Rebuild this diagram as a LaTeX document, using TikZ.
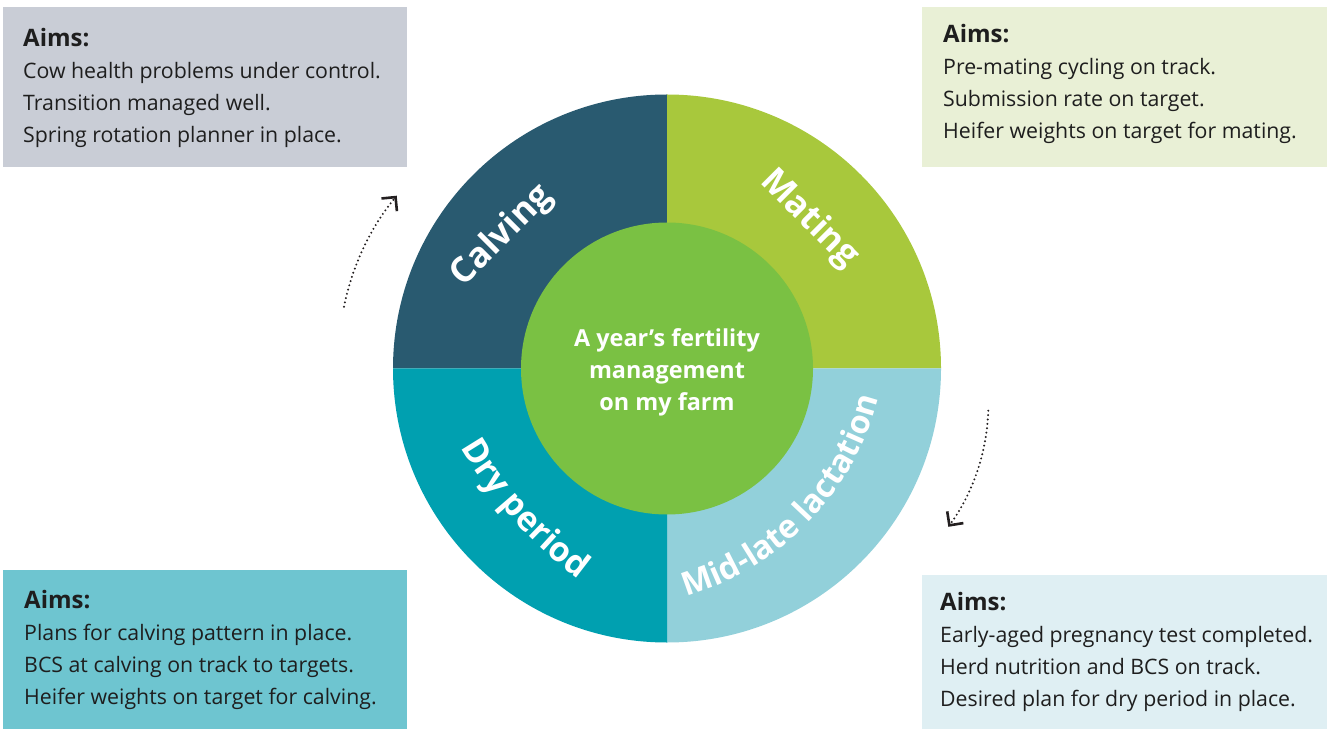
\documentclass[tikz,border=0pt]{standalone}
\usepackage{fontspec}
\setmainfont{Open Sans}
\usetikzlibrary{arrows.meta, positioning, decorations.text}
\definecolor{calvingblue}{HTML}{295A70}
\definecolor{matinggreen}{HTML}{A8C83C}
\definecolor{dryteal}{HTML}{00A0B0}
\definecolor{midlateblue}{HTML}{92D0DA}
\definecolor{hubgreen}{HTML}{7AC143}
\definecolor{calvingbox}{HTML}{C9CDD6}
\definecolor{matingbox}{HTML}{E9F0D6}
\definecolor{drybox}{HTML}{6EC5D0}
\definecolor{midlatebox}{HTML}{DFEFF3}
\definecolor{aimsink}{HTML}{1E1E1E}
\definecolor{turnink}{HTML}{231F20}
\newcommand{\aimshead}{{\bfseries\fontsize{24}{32}\selectfont Aims:}}
\tikzstyle{aimsbox} = [rectangle, anchor=north west, minimum width=404pt, inner sep=0pt]
\tikzstyle{aimstext} = [align=left, text=aimsink, font=\fontsize{21.3}{32}\selectfont, inner sep=0pt]
\tikzstyle{phaselabel} = [text=white, font=\bfseries\fontsize{35}{40}\selectfont, inner sep=0pt]
\tikzstyle{phasearc} = [decorate, decoration={text along path, text align=center, text color=white}]
\tikzstyle{hub} = [circle, fill=hubgreen, minimum size=292pt]
\tikzstyle{hubtext} = [align=center, text=white, inner sep=0pt, font=\bfseries\fontsize{23.4}{32}\selectfont]
\tikzstyle{turn} = [turnink, line width=2.2pt, line cap=round, dash pattern=on 0pt off 4.4pt, -{Straight Barb[length=10pt,width=20pt,line width=2.6pt]}]

\begin{document}
\begin{tikzpicture}[x=1pt, y=1pt]
\useasboundingbox (0,0) rectangle (1327,729);
\coordinate (c) at (667,360.5);

\fill[calvingblue] (c) -- ++(180:274) arc[start angle=180, end angle=90, radius=274] -- cycle;
\fill[matinggreen] (c) -- ++(90:274) arc[start angle=90, end angle=0, radius=274] -- cycle;
\fill[midlateblue] (c) -- ++(0:274) arc[start angle=0, end angle=-90, radius=274] -- cycle;
\fill[dryteal] (c) -- ++(-90:274) arc[start angle=-90, end angle=-180, radius=274] -- cycle;

\node (hub) [hub] at (c) {};
\node (hubtext) [hubtext] at ([yshift=-4pt]hub.center) {A year’s fertility\\management\\on my farm};

\node (calving) [phaselabel, rotate=45] at (502,493) {Calving};
\node (mating) [phaselabel, rotate=-45] at (809,510) {Mating};

\coordinate (dryarc) at (452.2,296.2);
\coordinate (midlatearc) at (675.6,129.5);
\path[phasearc, decoration={text={|\bfseries\fontsize{34}{34}\selectfont|Dry period}}] (dryarc) arc[start angle=-152, end angle=-124, radius=433];
\path[phasearc, decoration={text={|\bfseries\fontsize{32.5}{32.5}\selectfont|Mid-late lactation}}] (midlatearc) arc[start angle=-76, end angle=-12, radius=279];

\node (calvingaims) [aimsbox, fill=calvingbox, minimum height=160pt] at (3,722) {};
\node (matingaims) [aimsbox, fill=matingbox, minimum height=160pt, minimum width=405pt] at (922,722) {};
\node (dryaims) [aimsbox, fill=drybox, minimum height=159pt] at (3,159) {};
\node (midlateaims) [aimsbox, fill=midlatebox, minimum height=154pt, minimum width=405pt] at (922,154) {};

\node (calvingtext) [aimstext, right=20pt of calvingaims.west, yshift=-1pt] {\aimshead\\Cow health problems under control.\\Transition managed well.\\Spring rotation planner in place.};
\node (matingtext) [aimstext, right=21pt of matingaims.west, yshift=3pt] {\aimshead\\Pre-mating cycling on track.\\Submission rate on target.\\Heifer weights on target for mating.};
\node (drytext) [aimstext, right=21pt of dryaims.west] {\aimshead\\Plans for calving pattern in place.\\BCS at calving on track to targets.\\Heifer weights on target for calving.};
\node (midlatetext) [aimstext, right=18pt of midlateaims.west] {\aimshead\\Early-aged pregnancy test completed.\\Herd nutrition and BCS on track.\\Desired plan for dry period in place.};

\coordinate (calvingtail) at (344,422.3);
\coordinate (midlatetail) at (988.3,318.3);
\draw[turn] (calvingtail) arc[start angle=168.6, end angle=140.6, radius=254];
\draw[turn] (midlatetail) arc[start angle=-2, end angle=-36, radius=210];
\end{tikzpicture}
\end{document}
